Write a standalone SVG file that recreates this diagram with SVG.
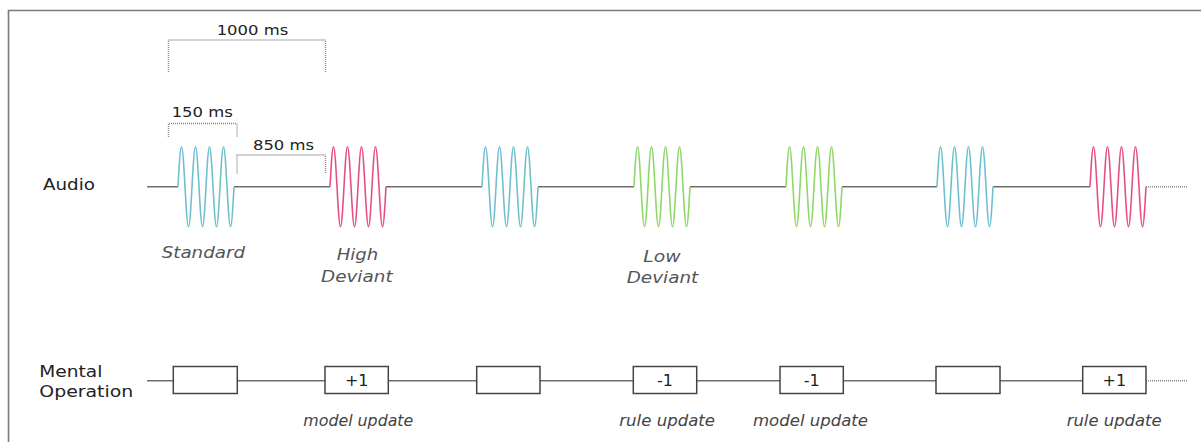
<svg xmlns="http://www.w3.org/2000/svg" width="1201" height="442" viewBox="0 0 1201 442">
  <style>
    .frame { fill: none; stroke: #7a7a7a; stroke-width: 1.6; }
    .base { fill: none; stroke: #6e6e6e; stroke-width: 1.4; }
    .dot { fill: none; stroke: #8a8a8a; stroke-width: 1.4; stroke-dasharray: 1 1; }
    .wave { fill: none; stroke-width: 1.6; }
    .std { stroke: #6fc0cf; }
    .high { stroke: #e6507f; }
    .low { stroke: #8fd867; }
    .box { fill: #ffffff; stroke: #444444; stroke-width: 1.5; }
    .lbl { font-family: "DejaVu Sans", Verdana, sans-serif; fill: #222222; }
    .tm { font-size: 14px; }
    .row { font-size: 15.5px; }
    .tag { font-size: 15.5px; font-style: italic; fill: #555555; }
    .op { font-size: 15px; font-style: italic; fill: #444444; }
    .num { font-size: 16px; text-anchor: middle; }
  </style>
  <defs>
    <!-- four cycles of a sine burst, starting upward from the baseline -->
    <path id="burst" d="M0,0
      c1.14,-20.49 2.23,-40 3.5,-40 c1.27,0 2.36,19.51 3.5,40 c1.14,20.49 2.23,40 3.5,40 c1.27,0 2.36,-19.51 3.5,-40
      c1.14,-20.49 2.23,-40 3.5,-40 c1.27,0 2.36,19.51 3.5,40 c1.14,20.49 2.23,40 3.5,40 c1.27,0 2.36,-19.51 3.5,-40
      c1.14,-20.49 2.23,-40 3.5,-40 c1.27,0 2.36,19.51 3.5,40 c1.14,20.49 2.23,40 3.5,40 c1.27,0 2.36,-19.51 3.5,-40
      c1.14,-20.49 2.23,-40 3.5,-40 c1.27,0 2.36,19.51 3.5,40 c1.14,20.49 2.23,40 3.5,40 c1.27,0 2.36,-19.51 3.5,-40"/>
  </defs>

  <rect width="1201" height="442" fill="#ffffff"/>
  <path class="frame" d="M1201,10.5 H8.5 V442"/>

  <!-- timing brackets -->
  <g id="timing">
    <path class="dot" d="M168.5,72 V40 H325.5 V72"/>
    <text class="lbl tm" x="216.7" y="35" textLength="71.5" lengthAdjust="spacingAndGlyphs">1000 ms</text>
    <path class="dot" d="M168.5,137 V123.5 H237 V137"/>
    <text class="lbl tm" x="171.7" y="117.3" textLength="61" lengthAdjust="spacingAndGlyphs">150 ms</text>
    <path class="dot" d="M237,173.5 V155 H325.5 V173.5"/>
    <text class="lbl tm" x="253" y="150" textLength="61" lengthAdjust="spacingAndGlyphs">850 ms</text>
  </g>

  <!-- row labels -->
  <g id="label-audio">
    <text class="lbl row" x="43" y="190" textLength="52" lengthAdjust="spacingAndGlyphs">Audio</text>
  </g>
  <g id="label-mental">
    <text class="lbl row" x="39.3" y="376.7" textLength="63" lengthAdjust="spacingAndGlyphs">Mental</text>
    <text class="lbl row" x="39.3" y="397.3" textLength="94" lengthAdjust="spacingAndGlyphs">Operation</text>
  </g>

  <!-- audio baseline and continuation -->
  <g id="connectors">
    <path class="base" d="M147,186.7 H178 M234,186.7 H330 M386,186.7 H482 M538,186.7 H634 M690,186.7 H786 M842,186.7 H937 M993,186.7 H1090"/>
    <path class="dot" d="M1146,186.7 H1188"/>
    <path class="base" d="M147,380.7 H173.3 M237.3,380.7 H325 M388.3,380.7 H476.7 M540,380.7 H633.3 M696.7,380.7 H780 M843.3,380.7 H936 M1000,380.7 H1082.7"/>
    <path class="dot" d="M1146,380.7 H1187"/>
  </g>

  <!-- tone bursts -->
  <g id="tone-1"><use href="#burst" class="wave std" x="178" y="186.7"/>
    <text class="lbl tag" x="161.7" y="258" textLength="83.3" lengthAdjust="spacingAndGlyphs">Standard</text></g>
  <g id="tone-2"><use href="#burst" class="wave high" x="330" y="186.7"/>
    <text class="lbl tag" x="336.7" y="260" textLength="41.6" lengthAdjust="spacingAndGlyphs">High</text>
    <text class="lbl tag" x="321" y="281.5" textLength="71.6" lengthAdjust="spacingAndGlyphs">Deviant</text></g>
  <g id="tone-3"><use href="#burst" class="wave std" x="482" y="186.7"/></g>
  <g id="tone-4"><use href="#burst" class="wave low" x="634" y="186.7"/>
    <text class="lbl tag" x="643.3" y="261.7" textLength="37.4" lengthAdjust="spacingAndGlyphs">Low</text>
    <text class="lbl tag" x="626.7" y="283.3" textLength="71.6" lengthAdjust="spacingAndGlyphs">Deviant</text></g>
  <g id="tone-5"><use href="#burst" class="wave low" x="786" y="186.7"/></g>
  <g id="tone-6"><use href="#burst" class="wave std" x="937" y="186.7"/></g>
  <g id="tone-7"><use href="#burst" class="wave high" x="1090" y="186.7"/></g>

  <!-- mental operation boxes -->
  <g id="op-1"><rect class="box" x="173.3" y="366.5" width="64" height="27"/></g>
  <g id="op-2"><rect class="box" x="325" y="366.5" width="63.3" height="27"/>
    <text class="lbl num" x="356.7" y="385.5">+1</text>
    <text class="lbl op" x="303.3" y="426" textLength="110" lengthAdjust="spacingAndGlyphs">model update</text></g>
  <g id="op-3"><rect class="box" x="476.7" y="366.5" width="63.3" height="27"/></g>
  <g id="op-4"><rect class="box" x="633.3" y="366.5" width="63.4" height="27"/>
    <text class="lbl num" x="665" y="385.5">-1</text>
    <text class="lbl op" x="619.3" y="426" textLength="95.7" lengthAdjust="spacingAndGlyphs">rule update</text></g>
  <g id="op-5"><rect class="box" x="780" y="366.5" width="63.3" height="27"/>
    <text class="lbl num" x="811.7" y="385.5">-1</text>
    <text class="lbl op" x="753" y="426" textLength="115" lengthAdjust="spacingAndGlyphs">model update</text></g>
  <g id="op-6"><rect class="box" x="936" y="366.5" width="64" height="27"/></g>
  <g id="op-7"><rect class="box" x="1082.7" y="366.5" width="63.3" height="27"/>
    <text class="lbl num" x="1114.3" y="385.5">+1</text>
    <text class="lbl op" x="1066.7" y="426" textLength="95" lengthAdjust="spacingAndGlyphs">rule update</text></g>
</svg>
